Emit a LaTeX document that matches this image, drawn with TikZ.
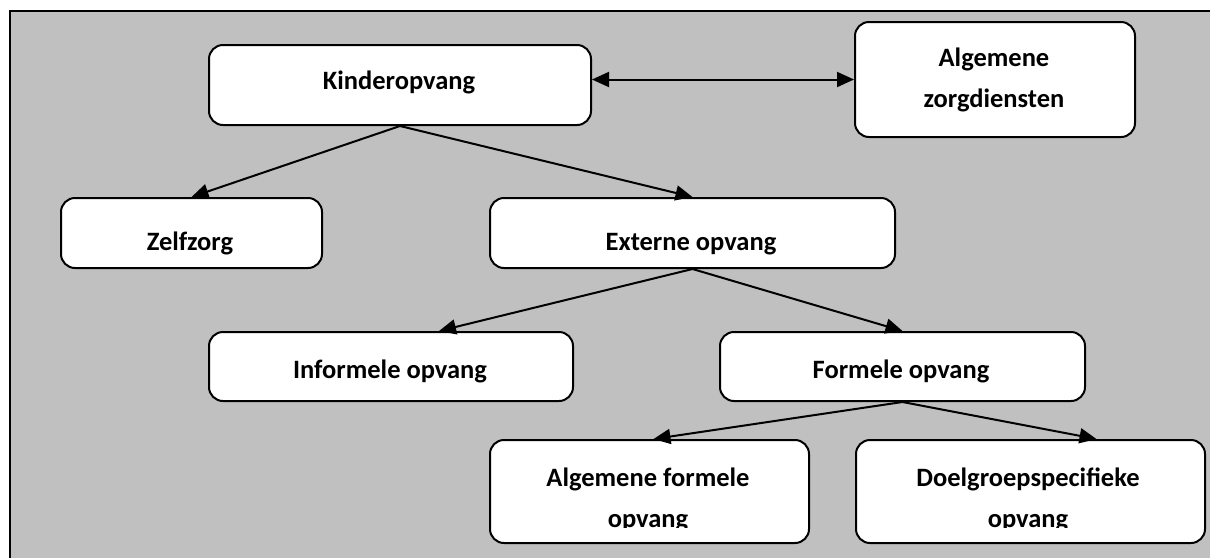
\documentclass[tikz,border=0pt]{standalone}
\usepackage{fontspec}
\setmainfont{Carlito}
\usetikzlibrary{arrows.meta,calc}
\definecolor{bggray}{RGB}{192,192,192}
\begin{document}
\begin{tikzpicture}[x=1pt,y=-1pt,
  box/.style={draw,line width=2pt,fill=white,rounded corners=14pt,inner sep=0pt,anchor=north west},
  lbl/.style={font=\fontsize{26.5}{41}\selectfont\bfseries,inner sep=0pt,align=center},
  arr/.style={line width=2pt,-{Triangle[length=17pt,width=15pt]}},
  darr/.style={line width=2pt,{Triangle[length=17pt,width=15pt]}-{Triangle[length=17pt,width=15pt]}},
]
\useasboundingbox (0,0) rectangle (1210,558);
\fill[bggray] (10,11) rectangle (1210,558);
\draw[line width=2.5pt] (10,558) -- (10,11) -- (1210,11);

% boxes
\node[box,minimum width=382pt,minimum height=80pt] (k) at (208,44) {};
\node[box,minimum width=280pt,minimum height=115pt] (alg) at (854,21) {};
\node[box,minimum width=261pt,minimum height=70pt] (zelf) at (60,197) {};
\node[box,minimum width=405pt,minimum height=70pt] (ext) at (489,197) {};
\node[box,minimum width=364pt,minimum height=69pt] (inf) at (208,331) {};
\node[box,minimum width=365pt,minimum height=69pt] (form) at (719,331) {};
\node[box,minimum width=319pt,minimum height=103pt] (agf) at (489,439) {};
\node[box,minimum width=349pt,minimum height=103pt] (doel) at (855,439) {};

% texts
\node[lbl,anchor=base] (tk) at (399,89) {Kinderopvang};
\node[lbl,anchor=center] (talg) at (994,80) {Algemene\\zorgdiensten};
\node[lbl,anchor=base] (tzelf) at (190,250) {Zelfzorg};
\node[lbl,anchor=base] (text) at (691,250) {Externe opvang};
\node[lbl,anchor=base] (tinf) at (390,378) {Informele opvang};
\node[lbl,anchor=base] (tform) at (901,378) {Formele opvang};
\begin{scope}
  \clip (489,439) rectangle (1204,527);
  \node[lbl,anchor=center] (tagf) at (648,500) {Algemene formele\\opvang};
  \node[lbl,anchor=center] (tdoel) at (1028,500) {Doelgroepspecifieke\\opvang};
\end{scope}

% connectors
\draw[darr] (k.east |- alg.west) -- (alg.west);
\draw[arr] (k.south) -- (zelf.north);
\draw[arr] (k.south) -- (ext.north);
\draw[arr] (ext.south) -- ([xshift=48pt]inf.north);
\draw[arr] (ext.south) -- (form.north);
\draw[arr] (form.south) -- ([xshift=4pt]agf.north);
\draw[arr] (form.south) -- ([xshift=66pt]doel.north);
\end{tikzpicture}
\end{document}
